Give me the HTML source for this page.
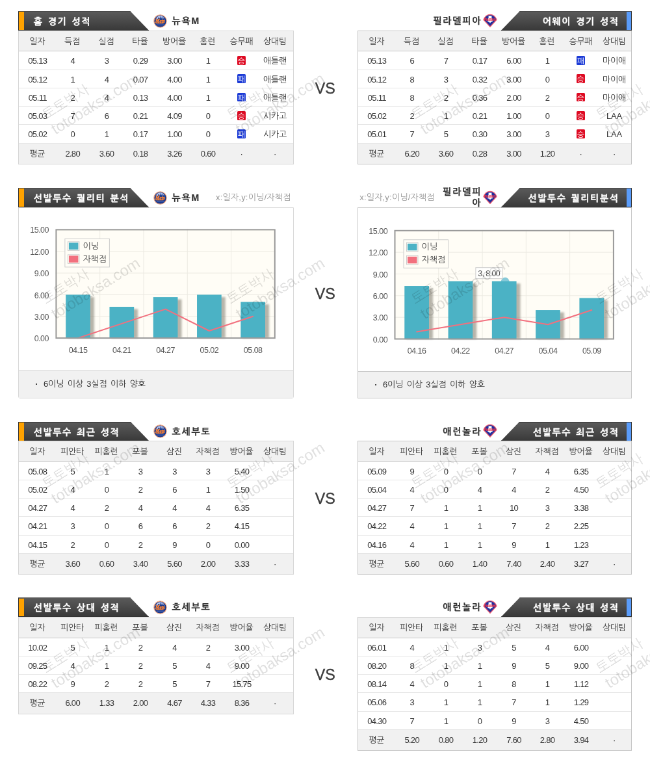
<!DOCTYPE html>
<html lang="ko"><head><meta charset="utf-8"><title>뉴욕M vs 필라델피아</title>
<style>
html,body{margin:0;padding:0;background:#fff;overflow:hidden;}
body{width:650px;height:769px;}
#clip{position:relative;width:650px;height:769px;overflow:hidden;background:#fff;}
#pg{position:absolute;left:0;top:0;width:1000px;height:1184px;transform:scale(0.65);transform-origin:0 0;font-family:"Liberation Sans", "NanumGothic", "Noto Sans CJK KR", sans-serif;font-size:12px;color:#444;background:#fff;will-change:transform;}
#pg div,#pg span,#pg svg{position:absolute;box-sizing:border-box;}
.hd{height:30px;width:201.5px;background:linear-gradient(#5b5b5b,#4a4a4a 50%,#383838);box-shadow:inset 0 0 0 1px #343434;}
.hl{clip-path:polygon(0 0,172.5px 0,201.5px 30px,0 30px);}
.hr{clip-path:polygon(29px 0,201.5px 0,201.5px 30px,0 30px);}
.bar{top:1.3px;width:7.6px;height:27.7px;}
.bar.o{left:1.4px;background:#ffa200;}
.bar.b{right:0.8px;width:6.9px;background:#5a9cfa;}
.tt{top:0;height:30px;line-height:32.6px;color:#fff;font-weight:bold;font-size:14px;white-space:nowrap;word-spacing:1.7px;letter-spacing:1.6px;-webkit-text-stroke:0.35px #fff;}
.hl .tt{left:23.8px;}
.hr .tt{right:19.6px;}
.tm{height:30px;line-height:30px;font-weight:bold;font-size:14px;color:#333;white-space:nowrap;letter-spacing:1.8px;color:#303030;-webkit-text-stroke:0.2px #303030;}
.tm.r{text-align:right;}
.tm.wr{white-space:normal;word-break:break-all;line-height:17px;margin-top:-2.6px;height:36px;}
.xy{height:30px;line-height:30px;color:#999;font-size:13px;letter-spacing:0.2px;white-space:nowrap;}
.xy.r{text-align:right;}
.tbl{border:1px solid #cbcbcb;background:#fff;overflow:hidden;}
.tr{left:0;width:100%;position:relative !important;display:block;}
.tr.th{height:31.4px;line-height:31px;background:#f1f1f1;border-bottom:1.5px solid #c6c6c6;color:#3a3a3a;}
.tr.td{height:28.24px;line-height:29.6px;border-bottom:1px solid #e6e6e6;color:#333;}
.tr.av{height:31.3px;line-height:31px;background:#f1f1f1;color:#333;}
.c{top:0;width:80px;text-align:center;white-space:nowrap;font-size:13px;letter-spacing:-0.2px;}
.c.n{letter-spacing:-0.7px;padding-left:1.2px;}
.bd{position:relative !important;display:inline-block;width:13.2px;height:13.8px;line-height:16px;border-radius:1.6px;color:#fff;font-size:11.5px;letter-spacing:0;font-weight:normal;vertical-align:middle;top:-2px;text-align:center;overflow:hidden;}
.bd.w{background:#de0a22;}
.bd.l{background:#1c3bd6;}
.vs{left:0;width:1000.6px;text-align:center;height:30px;line-height:33.6px;font-size:23.2px;color:#3c3c3c;-webkit-text-stroke:0.45px #3c3c3c;font-family:"Liberation Sans",sans-serif;}
.cbox{border:1px solid #cdcdcd;background:#fff;}
.cfoot{left:0;bottom:0;width:100%;height:43px;line-height:42px;background:#f1f1f1;border-top:1px solid #d9d9d9;padding-left:38px;color:#333;white-space:nowrap;word-spacing:2.2px;font-size:13px;letter-spacing:-0.2px;}
.cfoot .dot{left:25.2px;top:0;font-weight:bold;}
.ax{font-size:12.5px;letter-spacing:-0.5px;fill:#555;font-family:"Liberation Sans", "NanumGothic", "Noto Sans CJK KR", sans-serif;}
.lgt{font-size:13px;fill:#444;font-family:"Liberation Sans", "NanumGothic", "Noto Sans CJK KR", sans-serif;}
.tipt{font-size:12.5px;letter-spacing:-0.6px;fill:#555;font-family:"Liberation Sans", "NanumGothic", "Noto Sans CJK KR", sans-serif;}
.wm .k{position:static !important;padding-left:0px;font-size:21.4px;}
.wm{font-size:23.9px;line-height:26.4px;color:#000;opacity:0.125;transform:rotate(-32deg);transform-origin:0 0;white-space:nowrap;font-family:"Liberation Sans","NanumGothic",sans-serif;}
</style></head>
<body><div id="clip"><div id="pg">
<svg width="0" height="0" style="left:0;top:0"><defs><filter id="bl" x="-20%" y="-20%" width="140%" height="140%"><feGaussianBlur stdDeviation="1.6"/></filter></defs></svg>
<div class="hd hl" style="left:28.0px;top:17.2px"><span class="bar o"></span><span class="tt">홈 경기 성적</span></div>
<svg class="lg" style="left:236.3px;top:21.5px" width="21" height="21" viewBox="0 0 21 21"><circle cx="10.5" cy="10.5" r="9.7" fill="#1c3b8e" stroke="#f7ad85" stroke-width="1.2"/><path d="M3.2 8.6 Q4 4.8 7.2 3 Q10.5 1.6 13.8 3 Q17 4.8 17.8 8.6 Z" fill="#b4c3ea"/><path d="M2 10 V8 H4.2 V6.4 H5.6 V7.4 H7 V5 H8.4 V6.2 H9.6 L10.5 2.4 L11.4 6.2 H12.6 V4.6 H14 V6.8 H15.4 V5.8 H16.8 V8 H19 V10 Z" fill="#1c3b8e"/><text x="10.3" y="12.7" font-family="Liberation Serif, serif" font-style="italic" font-weight="bold" font-size="7.4" fill="#f98035" stroke="#f98035" stroke-width="0.45" text-anchor="middle">Mets</text><path d="M4.2 13.7 H15.4" stroke="#f98035" stroke-width="1.1"/><path d="M5 16.2 H16" stroke="#5d78c2" stroke-width="0.8"/></svg>
<div class="tm" style="left:264.5px;top:17.2px">뉴욕M</div>
<div class="hd hr" style="left:770.5px;top:17.2px"><span class="tt">어웨이 경기 성적</span><span class="bar b"></span></div>
<svg class="lg" style="left:743.2px;top:20.9px" width="22" height="21" viewBox="0 0 22 21"><path d="M11 20.2 L1 9.4 Q2.2 6 5 3.6 Q11 -0.8 17 3.6 Q19.8 6 21 9.4 Z" fill="#1f2f9e" stroke="#ec5a6e" stroke-width="1.3" stroke-linejoin="round"/><path d="M8.6 3.6 H13.4 V6.6 Q15.2 10.4 14.6 12.6 H12.4 L11 14.8 L9.6 12.6 H7.4 Q6.8 10.4 8.6 6.6 Z" fill="#ffffff"/><text x="10.6" y="11.2" font-family="Liberation Serif, serif" font-style="italic" font-weight="bold" font-size="6" fill="#e8344e" stroke="#e8344e" stroke-width="0.2" text-anchor="middle">Phillies</text><circle cx="4.6" cy="8" r="0.9" fill="#e8344e"/><circle cx="17.2" cy="8" r="0.9" fill="#e8344e"/></svg>
<div class="tm r" style="right:258.8px;top:17.2px;width:120px">필라델피아</div>
<div class="tbl" style="border-color:#d6d6d6;left:28.0px;top:47.00px;width:423.5px;height:205.90px">
<div class="tr th">
<span class="c" style="left:-11.8px">일자</span>
<span class="c" style="left:42.1px">득점</span>
<span class="c" style="left:94.4px">실점</span>
<span class="c" style="left:146.4px">타율</span>
<span class="c" style="left:199.0px">방어율</span>
<span class="c" style="left:250.4px">홈런</span>
<span class="c" style="left:302.5px">승무패</span>
<span class="c" style="left:354.0px">상대팀</span>
</div>
<div class="tr td">
<span class="c n" style="left:-11.8px">05.13</span>
<span class="c n" style="left:42.1px">4</span>
<span class="c n" style="left:94.4px">3</span>
<span class="c n" style="left:146.4px">0.29</span>
<span class="c n" style="left:199.0px">3.00</span>
<span class="c n" style="left:250.4px">1</span>
<span class="c" style="left:302.5px"><span class="bd w">승</span></span>
<span class="c" style="left:354.0px">애틀랜</span>
</div>
<div class="tr td">
<span class="c n" style="left:-11.8px">05.12</span>
<span class="c n" style="left:42.1px">1</span>
<span class="c n" style="left:94.4px">4</span>
<span class="c n" style="left:146.4px">0.07</span>
<span class="c n" style="left:199.0px">4.00</span>
<span class="c n" style="left:250.4px">1</span>
<span class="c" style="left:302.5px"><span class="bd l">패</span></span>
<span class="c" style="left:354.0px">애틀랜</span>
</div>
<div class="tr td">
<span class="c n" style="left:-11.8px">05.11</span>
<span class="c n" style="left:42.1px">2</span>
<span class="c n" style="left:94.4px">4</span>
<span class="c n" style="left:146.4px">0.13</span>
<span class="c n" style="left:199.0px">4.00</span>
<span class="c n" style="left:250.4px">1</span>
<span class="c" style="left:302.5px"><span class="bd l">패</span></span>
<span class="c" style="left:354.0px">애틀랜</span>
</div>
<div class="tr td">
<span class="c n" style="left:-11.8px">05.03</span>
<span class="c n" style="left:42.1px">7</span>
<span class="c n" style="left:94.4px">6</span>
<span class="c n" style="left:146.4px">0.21</span>
<span class="c n" style="left:199.0px">4.09</span>
<span class="c n" style="left:250.4px">0</span>
<span class="c" style="left:302.5px"><span class="bd w">승</span></span>
<span class="c" style="left:354.0px">시카고</span>
</div>
<div class="tr td">
<span class="c n" style="left:-11.8px">05.02</span>
<span class="c n" style="left:42.1px">0</span>
<span class="c n" style="left:94.4px">1</span>
<span class="c n" style="left:146.4px">0.17</span>
<span class="c n" style="left:199.0px">1.00</span>
<span class="c n" style="left:250.4px">0</span>
<span class="c" style="left:302.5px"><span class="bd l">패</span></span>
<span class="c" style="left:354.0px">시카고</span>
</div>
<div class="tr av">
<span class="c" style="left:-11.8px">평균</span>
<span class="c n" style="left:42.1px">2.80</span>
<span class="c n" style="left:94.4px">3.60</span>
<span class="c n" style="left:146.4px">0.18</span>
<span class="c n" style="left:199.0px">3.26</span>
<span class="c n" style="left:250.4px">0.60</span>
<span class="c" style="left:302.5px">·</span>
<span class="c" style="left:354.0px">·</span>
</div></div>
<div class="tbl" style="border-color:#c6c6c6;left:550.0px;top:47.00px;width:422.0px;height:205.90px">
<div class="tr th">
<span class="c" style="left:-11.8px">일자</span>
<span class="c" style="left:42.1px">득점</span>
<span class="c" style="left:94.4px">실점</span>
<span class="c" style="left:146.4px">타율</span>
<span class="c" style="left:199.0px">방어율</span>
<span class="c" style="left:250.4px">홈런</span>
<span class="c" style="left:302.5px">승무패</span>
<span class="c" style="left:354.0px">상대팀</span>
</div>
<div class="tr td">
<span class="c n" style="left:-11.8px">05.13</span>
<span class="c n" style="left:42.1px">6</span>
<span class="c n" style="left:94.4px">7</span>
<span class="c n" style="left:146.4px">0.17</span>
<span class="c n" style="left:199.0px">6.00</span>
<span class="c n" style="left:250.4px">1</span>
<span class="c" style="left:302.5px"><span class="bd l">패</span></span>
<span class="c" style="left:354.0px">마이애</span>
</div>
<div class="tr td">
<span class="c n" style="left:-11.8px">05.12</span>
<span class="c n" style="left:42.1px">8</span>
<span class="c n" style="left:94.4px">3</span>
<span class="c n" style="left:146.4px">0.32</span>
<span class="c n" style="left:199.0px">3.00</span>
<span class="c n" style="left:250.4px">0</span>
<span class="c" style="left:302.5px"><span class="bd w">승</span></span>
<span class="c" style="left:354.0px">마이애</span>
</div>
<div class="tr td">
<span class="c n" style="left:-11.8px">05.11</span>
<span class="c n" style="left:42.1px">8</span>
<span class="c n" style="left:94.4px">2</span>
<span class="c n" style="left:146.4px">0.36</span>
<span class="c n" style="left:199.0px">2.00</span>
<span class="c n" style="left:250.4px">2</span>
<span class="c" style="left:302.5px"><span class="bd w">승</span></span>
<span class="c" style="left:354.0px">마이애</span>
</div>
<div class="tr td">
<span class="c n" style="left:-11.8px">05.02</span>
<span class="c n" style="left:42.1px">2</span>
<span class="c n" style="left:94.4px">1</span>
<span class="c n" style="left:146.4px">0.21</span>
<span class="c n" style="left:199.0px">1.00</span>
<span class="c n" style="left:250.4px">0</span>
<span class="c" style="left:302.5px"><span class="bd w">승</span></span>
<span class="c" style="left:354.0px">LAA</span>
</div>
<div class="tr td">
<span class="c n" style="left:-11.8px">05.01</span>
<span class="c n" style="left:42.1px">7</span>
<span class="c n" style="left:94.4px">5</span>
<span class="c n" style="left:146.4px">0.30</span>
<span class="c n" style="left:199.0px">3.00</span>
<span class="c n" style="left:250.4px">3</span>
<span class="c" style="left:302.5px"><span class="bd w">승</span></span>
<span class="c" style="left:354.0px">LAA</span>
</div>
<div class="tr av">
<span class="c" style="left:-11.8px">평균</span>
<span class="c n" style="left:42.1px">6.20</span>
<span class="c n" style="left:94.4px">3.60</span>
<span class="c n" style="left:146.4px">0.28</span>
<span class="c n" style="left:199.0px">3.00</span>
<span class="c n" style="left:250.4px">1.20</span>
<span class="c" style="left:302.5px">·</span>
<span class="c" style="left:354.0px">·</span>
</div></div>
<div class="vs" style="top:119.94999999999999px">VS</div>
<div class="hd hl" style="left:28.0px;top:289.2px"><span class="bar o"></span><span class="tt">선발투수 퀄리티 분석</span></div>
<svg class="lg" style="left:236.3px;top:293.5px" width="21" height="21" viewBox="0 0 21 21"><circle cx="10.5" cy="10.5" r="9.7" fill="#1c3b8e" stroke="#f7ad85" stroke-width="1.2"/><path d="M3.2 8.6 Q4 4.8 7.2 3 Q10.5 1.6 13.8 3 Q17 4.8 17.8 8.6 Z" fill="#b4c3ea"/><path d="M2 10 V8 H4.2 V6.4 H5.6 V7.4 H7 V5 H8.4 V6.2 H9.6 L10.5 2.4 L11.4 6.2 H12.6 V4.6 H14 V6.8 H15.4 V5.8 H16.8 V8 H19 V10 Z" fill="#1c3b8e"/><text x="10.3" y="12.7" font-family="Liberation Serif, serif" font-style="italic" font-weight="bold" font-size="7.4" fill="#f98035" stroke="#f98035" stroke-width="0.45" text-anchor="middle">Mets</text><path d="M4.2 13.7 H15.4" stroke="#f98035" stroke-width="1.1"/><path d="M5 16.2 H16" stroke="#5d78c2" stroke-width="0.8"/></svg>
<div class="tm" style="left:264.5px;top:289.2px">뉴욕M</div>
<div class="xy" style="left:332px;top:289.2px">x:일자,y:이닝/자책점</div>
<div class="hd hr" style="left:770.5px;top:289.2px"><span class="tt">선발투수 퀄리티분석</span><span class="bar b"></span></div>
<svg class="lg" style="left:743.2px;top:292.9px" width="22" height="21" viewBox="0 0 22 21"><path d="M11 20.2 L1 9.4 Q2.2 6 5 3.6 Q11 -0.8 17 3.6 Q19.8 6 21 9.4 Z" fill="#1f2f9e" stroke="#ec5a6e" stroke-width="1.3" stroke-linejoin="round"/><path d="M8.6 3.6 H13.4 V6.6 Q15.2 10.4 14.6 12.6 H12.4 L11 14.8 L9.6 12.6 H7.4 Q6.8 10.4 8.6 6.6 Z" fill="#ffffff"/><text x="10.6" y="11.2" font-family="Liberation Serif, serif" font-style="italic" font-weight="bold" font-size="6" fill="#e8344e" stroke="#e8344e" stroke-width="0.2" text-anchor="middle">Phillies</text><circle cx="4.6" cy="8" r="0.9" fill="#e8344e"/><circle cx="17.2" cy="8" r="0.9" fill="#e8344e"/></svg>
<div class="tm r wr" style="right:258.8px;top:289.2px;width:64px">필라델피아</div>
<div class="xy r" style="left:528.8px;width:140px;top:289.2px">x:일자,y:이닝/자책점</div>
<div class="cbox" style="left:28.0px;top:319.2px;width:423.5px;height:293.9px;border-color:#d9d9d9;border-radius:0 0 3px 3px">
<svg class="plot" width="421.5" height="250" viewBox="0 0 421.5 250" style="left:0;top:0">
<rect x="56.40" y="32.40" width="338.4" height="168.7" fill="#fffdf6"/>
<line x1="56.40" x2="394.80" y1="66.74" y2="66.74" stroke="#eceae2" stroke-width="1"/>
<line x1="56.40" x2="394.80" y1="100.08" y2="100.08" stroke="#eceae2" stroke-width="1"/>
<line x1="56.40" x2="394.80" y1="133.42" y2="133.42" stroke="#eceae2" stroke-width="1"/>
<line x1="56.40" x2="394.80" y1="166.76" y2="166.76" stroke="#eceae2" stroke-width="1"/>
<line y1="32.40" y2="201.10" x1="124.68" x2="124.68" stroke="#eceae2" stroke-width="1"/>
<line y1="32.40" y2="201.10" x1="191.96" x2="191.96" stroke="#eceae2" stroke-width="1"/>
<line y1="32.40" y2="201.10" x1="259.24" x2="259.24" stroke="#eceae2" stroke-width="1"/>
<line y1="32.40" y2="201.10" x1="326.52" x2="326.52" stroke="#eceae2" stroke-width="1"/>
<rect x="75.19" y="136.92" width="40.70" height="63.18" fill="#7d796c" opacity="0.55" filter="url(#bl)"/>
<rect x="72.19" y="133.42" width="37.70" height="67.28" fill="#4bb2c5"/>
<rect x="142.47" y="155.48" width="40.70" height="44.62" fill="#7d796c" opacity="0.55" filter="url(#bl)"/>
<rect x="139.47" y="151.98" width="37.70" height="48.72" fill="#4bb2c5"/>
<rect x="209.75" y="140.59" width="40.70" height="59.51" fill="#7d796c" opacity="0.55" filter="url(#bl)"/>
<rect x="206.75" y="137.09" width="37.70" height="63.61" fill="#4bb2c5"/>
<rect x="277.03" y="136.92" width="40.70" height="63.18" fill="#7d796c" opacity="0.55" filter="url(#bl)"/>
<rect x="274.03" y="133.42" width="37.70" height="67.28" fill="#4bb2c5"/>
<rect x="344.31" y="148.03" width="40.70" height="52.07" fill="#7d796c" opacity="0.55" filter="url(#bl)"/>
<rect x="341.31" y="144.53" width="37.70" height="56.17" fill="#4bb2c5"/>
<polyline points="91.04,200.10 158.32,177.87 225.60,155.65 292.88,188.99 360.16,166.76" fill="none" stroke="#f2707e" stroke-width="2" stroke-linejoin="round" stroke-linecap="round"/>
<rect x="57.40" y="33.40" width="336.4" height="166.7" fill="none" stroke="#999999" stroke-width="2"/>
<rect x="70.90" y="47.40" width="68.5" height="43.5" fill="#fffdf6" stroke="#cccccc" stroke-width="1"/>
<rect x="75.40" y="51.90" width="17.5" height="13.5" fill="#fffdf6" stroke="#cccccc" stroke-width="1"/>
<rect x="76.90" y="53.40" width="14.5" height="10.5" fill="#4bb2c5"/>
<rect x="75.40" y="71.90" width="17.5" height="13.5" fill="#fffdf6" stroke="#cccccc" stroke-width="1"/>
<rect x="76.90" y="73.40" width="14.5" height="10.5" fill="#f2707e"/>
<text x="98.40" y="63.00" class="lgt">이닝</text>
<text x="98.40" y="83.00" class="lgt">자책점</text>
<text x="46.00" y="38.50" class="ax" text-anchor="end">15.00</text>
<text x="46.00" y="71.84" class="ax" text-anchor="end">12.00</text>
<text x="46.00" y="105.18" class="ax" text-anchor="end">9.00</text>
<text x="46.00" y="138.52" class="ax" text-anchor="end">6.00</text>
<text x="46.00" y="171.86" class="ax" text-anchor="end">3.00</text>
<text x="46.00" y="205.20" class="ax" text-anchor="end">0.00</text>
<text x="91.04" y="222.80" class="ax" text-anchor="middle">04.15</text>
<text x="158.32" y="222.80" class="ax" text-anchor="middle">04.21</text>
<text x="225.60" y="222.80" class="ax" text-anchor="middle">04.27</text>
<text x="292.88" y="222.80" class="ax" text-anchor="middle">05.02</text>
<text x="360.16" y="222.80" class="ax" text-anchor="middle">05.08</text>
</svg>
<div class="cfoot" style="height:42.6px;line-height:42.0px;border-top-color:#d9d9d9"><span class="dot">·</span>6이닝 이상 3실점 이하 양호</div>
</div>
<div class="cbox" style="left:550.0px;top:319.2px;width:422.0px;height:293.9px;border-color:#c9c9c9;border-radius:0 0 0px 0px">
<svg class="plot" width="420.0" height="250" viewBox="0 0 420.0 250" style="left:0;top:0">
<rect x="55.50" y="33.80" width="338.4" height="168.7" fill="#fffdf6"/>
<line x1="55.50" x2="393.90" y1="68.14" y2="68.14" stroke="#eceae2" stroke-width="1"/>
<line x1="55.50" x2="393.90" y1="101.48" y2="101.48" stroke="#eceae2" stroke-width="1"/>
<line x1="55.50" x2="393.90" y1="134.82" y2="134.82" stroke="#eceae2" stroke-width="1"/>
<line x1="55.50" x2="393.90" y1="168.16" y2="168.16" stroke="#eceae2" stroke-width="1"/>
<line y1="33.80" y2="202.50" x1="123.78" x2="123.78" stroke="#eceae2" stroke-width="1"/>
<line y1="33.80" y2="202.50" x1="191.06" x2="191.06" stroke="#eceae2" stroke-width="1"/>
<line y1="33.80" y2="202.50" x1="258.34" x2="258.34" stroke="#eceae2" stroke-width="1"/>
<line y1="33.80" y2="202.50" x1="325.62" x2="325.62" stroke="#eceae2" stroke-width="1"/>
<rect x="74.29" y="123.54" width="40.70" height="77.96" fill="#7d796c" opacity="0.55" filter="url(#bl)"/>
<rect x="71.29" y="120.04" width="37.70" height="82.06" fill="#4bb2c5"/>
<rect x="141.57" y="116.09" width="40.70" height="85.41" fill="#7d796c" opacity="0.55" filter="url(#bl)"/>
<rect x="138.57" y="112.59" width="37.70" height="89.51" fill="#4bb2c5"/>
<rect x="208.85" y="116.09" width="40.70" height="85.41" fill="#7d796c" opacity="0.55" filter="url(#bl)"/>
<circle cx="226.2" cy="113.1" r="6.3" fill="#86c9d8"/>
<rect x="205.85" y="112.59" width="37.70" height="89.51" fill="#4bb2c5"/>
<rect x="276.13" y="160.55" width="40.70" height="40.95" fill="#7d796c" opacity="0.55" filter="url(#bl)"/>
<rect x="273.13" y="157.05" width="37.70" height="45.05" fill="#4bb2c5"/>
<rect x="343.41" y="141.99" width="40.70" height="59.51" fill="#7d796c" opacity="0.55" filter="url(#bl)"/>
<rect x="340.41" y="138.49" width="37.70" height="63.61" fill="#4bb2c5"/>
<polyline points="90.14,190.39 157.42,179.27 224.70,168.16 291.98,179.27 359.26,157.05" fill="none" stroke="#f2707e" stroke-width="2" stroke-linejoin="round" stroke-linecap="round"/>
<rect x="56.50" y="34.80" width="336.4" height="166.7" fill="none" stroke="#999999" stroke-width="2"/>
<rect x="70.00" y="48.80" width="68.5" height="43.5" fill="#fffdf6" stroke="#cccccc" stroke-width="1"/>
<rect x="74.50" y="53.30" width="17.5" height="13.5" fill="#fffdf6" stroke="#cccccc" stroke-width="1"/>
<rect x="76.00" y="54.80" width="14.5" height="10.5" fill="#4bb2c5"/>
<rect x="74.50" y="73.30" width="17.5" height="13.5" fill="#fffdf6" stroke="#cccccc" stroke-width="1"/>
<rect x="76.00" y="74.80" width="14.5" height="10.5" fill="#f2707e"/>
<text x="97.50" y="64.40" class="lgt">이닝</text>
<text x="97.50" y="84.40" class="lgt">자책점</text>
<rect x="180.9" y="91.7" width="41" height="17" fill="#ffffff" fill-opacity="0.85" stroke="#cccccc" stroke-width="1"/>
<text x="184.2" y="105.0" class="tipt">3, 8.00</text>
<text x="45.10" y="39.90" class="ax" text-anchor="end">15.00</text>
<text x="45.10" y="73.24" class="ax" text-anchor="end">12.00</text>
<text x="45.10" y="106.58" class="ax" text-anchor="end">9.00</text>
<text x="45.10" y="139.92" class="ax" text-anchor="end">6.00</text>
<text x="45.10" y="173.26" class="ax" text-anchor="end">3.00</text>
<text x="45.10" y="206.60" class="ax" text-anchor="end">0.00</text>
<text x="90.14" y="224.20" class="ax" text-anchor="middle">04.16</text>
<text x="157.42" y="224.20" class="ax" text-anchor="middle">04.22</text>
<text x="224.70" y="224.20" class="ax" text-anchor="middle">04.27</text>
<text x="291.98" y="224.20" class="ax" text-anchor="middle">05.04</text>
<text x="359.26" y="224.20" class="ax" text-anchor="middle">05.09</text>
</svg>
<div class="cfoot" style="height:41.4px;line-height:40.8px;border-top-color:#c9c9c9"><span class="dot">·</span>6이닝 이상 3실점 이하 양호</div>
</div>
<div class="vs" style="top:436.1px">VS</div>
<div class="hd hl" style="left:28.0px;top:648.6px"><span class="bar o"></span><span class="tt">선발투수 최근 성적</span></div>
<svg class="lg" style="left:236.3px;top:652.9px" width="21" height="21" viewBox="0 0 21 21"><circle cx="10.5" cy="10.5" r="9.7" fill="#1c3b8e" stroke="#f7ad85" stroke-width="1.2"/><path d="M3.2 8.6 Q4 4.8 7.2 3 Q10.5 1.6 13.8 3 Q17 4.8 17.8 8.6 Z" fill="#b4c3ea"/><path d="M2 10 V8 H4.2 V6.4 H5.6 V7.4 H7 V5 H8.4 V6.2 H9.6 L10.5 2.4 L11.4 6.2 H12.6 V4.6 H14 V6.8 H15.4 V5.8 H16.8 V8 H19 V10 Z" fill="#1c3b8e"/><text x="10.3" y="12.7" font-family="Liberation Serif, serif" font-style="italic" font-weight="bold" font-size="7.4" fill="#f98035" stroke="#f98035" stroke-width="0.45" text-anchor="middle">Mets</text><path d="M4.2 13.7 H15.4" stroke="#f98035" stroke-width="1.1"/><path d="M5 16.2 H16" stroke="#5d78c2" stroke-width="0.8"/></svg>
<div class="tm" style="left:264.5px;top:648.6px">호세부토</div>
<div class="hd hr" style="left:770.5px;top:648.6px"><span class="tt">선발투수 최근 성적</span><span class="bar b"></span></div>
<svg class="lg" style="left:743.2px;top:652.3000000000001px" width="22" height="21" viewBox="0 0 22 21"><path d="M11 20.2 L1 9.4 Q2.2 6 5 3.6 Q11 -0.8 17 3.6 Q19.8 6 21 9.4 Z" fill="#1f2f9e" stroke="#ec5a6e" stroke-width="1.3" stroke-linejoin="round"/><path d="M8.6 3.6 H13.4 V6.6 Q15.2 10.4 14.6 12.6 H12.4 L11 14.8 L9.6 12.6 H7.4 Q6.8 10.4 8.6 6.6 Z" fill="#ffffff"/><text x="10.6" y="11.2" font-family="Liberation Serif, serif" font-style="italic" font-weight="bold" font-size="6" fill="#e8344e" stroke="#e8344e" stroke-width="0.2" text-anchor="middle">Phillies</text><circle cx="4.6" cy="8" r="0.9" fill="#e8344e"/><circle cx="17.2" cy="8" r="0.9" fill="#e8344e"/></svg>
<div class="tm r" style="right:258.8px;top:648.6px;width:120px">애런놀라</div>
<div class="tbl" style="border-color:#d6d6d6;left:28.0px;top:678.40px;width:423.5px;height:205.90px">
<div class="tr th">
<span class="c" style="left:-11.8px">일자</span>
<span class="c" style="left:42.1px">피안타</span>
<span class="c" style="left:94.4px">피홈런</span>
<span class="c" style="left:146.4px">포볼</span>
<span class="c" style="left:199.0px">삼진</span>
<span class="c" style="left:250.4px">자책점</span>
<span class="c" style="left:302.5px">방어율</span>
<span class="c" style="left:354.0px">상대팀</span>
</div>
<div class="tr td">
<span class="c n" style="left:-11.8px">05.08</span>
<span class="c n" style="left:42.1px">5</span>
<span class="c n" style="left:94.4px">1</span>
<span class="c n" style="left:146.4px">3</span>
<span class="c n" style="left:199.0px">3</span>
<span class="c n" style="left:250.4px">3</span>
<span class="c n" style="left:302.5px">5.40</span>
</div>
<div class="tr td">
<span class="c n" style="left:-11.8px">05.02</span>
<span class="c n" style="left:42.1px">4</span>
<span class="c n" style="left:94.4px">0</span>
<span class="c n" style="left:146.4px">2</span>
<span class="c n" style="left:199.0px">6</span>
<span class="c n" style="left:250.4px">1</span>
<span class="c n" style="left:302.5px">1.50</span>
</div>
<div class="tr td">
<span class="c n" style="left:-11.8px">04.27</span>
<span class="c n" style="left:42.1px">4</span>
<span class="c n" style="left:94.4px">2</span>
<span class="c n" style="left:146.4px">4</span>
<span class="c n" style="left:199.0px">4</span>
<span class="c n" style="left:250.4px">4</span>
<span class="c n" style="left:302.5px">6.35</span>
</div>
<div class="tr td">
<span class="c n" style="left:-11.8px">04.21</span>
<span class="c n" style="left:42.1px">3</span>
<span class="c n" style="left:94.4px">0</span>
<span class="c n" style="left:146.4px">6</span>
<span class="c n" style="left:199.0px">6</span>
<span class="c n" style="left:250.4px">2</span>
<span class="c n" style="left:302.5px">4.15</span>
</div>
<div class="tr td">
<span class="c n" style="left:-11.8px">04.15</span>
<span class="c n" style="left:42.1px">2</span>
<span class="c n" style="left:94.4px">0</span>
<span class="c n" style="left:146.4px">2</span>
<span class="c n" style="left:199.0px">9</span>
<span class="c n" style="left:250.4px">0</span>
<span class="c n" style="left:302.5px">0.00</span>
</div>
<div class="tr av">
<span class="c" style="left:-11.8px">평균</span>
<span class="c n" style="left:42.1px">3.60</span>
<span class="c n" style="left:94.4px">0.60</span>
<span class="c n" style="left:146.4px">3.40</span>
<span class="c n" style="left:199.0px">5.60</span>
<span class="c n" style="left:250.4px">2.00</span>
<span class="c n" style="left:302.5px">3.33</span>
<span class="c" style="left:354.0px">·</span>
</div></div>
<div class="tbl" style="border-color:#c6c6c6;left:550.0px;top:678.40px;width:422.0px;height:205.90px">
<div class="tr th">
<span class="c" style="left:-11.8px">일자</span>
<span class="c" style="left:42.1px">피안타</span>
<span class="c" style="left:94.4px">피홈런</span>
<span class="c" style="left:146.4px">포볼</span>
<span class="c" style="left:199.0px">삼진</span>
<span class="c" style="left:250.4px">자책점</span>
<span class="c" style="left:302.5px">방어율</span>
<span class="c" style="left:354.0px">상대팀</span>
</div>
<div class="tr td">
<span class="c n" style="left:-11.8px">05.09</span>
<span class="c n" style="left:42.1px">9</span>
<span class="c n" style="left:94.4px">0</span>
<span class="c n" style="left:146.4px">0</span>
<span class="c n" style="left:199.0px">7</span>
<span class="c n" style="left:250.4px">4</span>
<span class="c n" style="left:302.5px">6.35</span>
</div>
<div class="tr td">
<span class="c n" style="left:-11.8px">05.04</span>
<span class="c n" style="left:42.1px">4</span>
<span class="c n" style="left:94.4px">0</span>
<span class="c n" style="left:146.4px">4</span>
<span class="c n" style="left:199.0px">4</span>
<span class="c n" style="left:250.4px">2</span>
<span class="c n" style="left:302.5px">4.50</span>
</div>
<div class="tr td">
<span class="c n" style="left:-11.8px">04.27</span>
<span class="c n" style="left:42.1px">7</span>
<span class="c n" style="left:94.4px">1</span>
<span class="c n" style="left:146.4px">1</span>
<span class="c n" style="left:199.0px">10</span>
<span class="c n" style="left:250.4px">3</span>
<span class="c n" style="left:302.5px">3.38</span>
</div>
<div class="tr td">
<span class="c n" style="left:-11.8px">04.22</span>
<span class="c n" style="left:42.1px">4</span>
<span class="c n" style="left:94.4px">1</span>
<span class="c n" style="left:146.4px">1</span>
<span class="c n" style="left:199.0px">7</span>
<span class="c n" style="left:250.4px">2</span>
<span class="c n" style="left:302.5px">2.25</span>
</div>
<div class="tr td">
<span class="c n" style="left:-11.8px">04.16</span>
<span class="c n" style="left:42.1px">4</span>
<span class="c n" style="left:94.4px">1</span>
<span class="c n" style="left:146.4px">1</span>
<span class="c n" style="left:199.0px">9</span>
<span class="c n" style="left:250.4px">1</span>
<span class="c n" style="left:302.5px">1.23</span>
</div>
<div class="tr av">
<span class="c" style="left:-11.8px">평균</span>
<span class="c n" style="left:42.1px">5.60</span>
<span class="c n" style="left:94.4px">0.60</span>
<span class="c n" style="left:146.4px">1.40</span>
<span class="c n" style="left:199.0px">7.40</span>
<span class="c n" style="left:250.4px">2.40</span>
<span class="c n" style="left:302.5px">3.27</span>
<span class="c" style="left:354.0px">·</span>
</div></div>
<div class="vs" style="top:751.45px">VS</div>
<div class="hd hl" style="left:28.0px;top:919.4px"><span class="bar o"></span><span class="tt">선발투수 상대 성적</span></div>
<svg class="lg" style="left:236.3px;top:923.6999999999999px" width="21" height="21" viewBox="0 0 21 21"><circle cx="10.5" cy="10.5" r="9.7" fill="#1c3b8e" stroke="#f7ad85" stroke-width="1.2"/><path d="M3.2 8.6 Q4 4.8 7.2 3 Q10.5 1.6 13.8 3 Q17 4.8 17.8 8.6 Z" fill="#b4c3ea"/><path d="M2 10 V8 H4.2 V6.4 H5.6 V7.4 H7 V5 H8.4 V6.2 H9.6 L10.5 2.4 L11.4 6.2 H12.6 V4.6 H14 V6.8 H15.4 V5.8 H16.8 V8 H19 V10 Z" fill="#1c3b8e"/><text x="10.3" y="12.7" font-family="Liberation Serif, serif" font-style="italic" font-weight="bold" font-size="7.4" fill="#f98035" stroke="#f98035" stroke-width="0.45" text-anchor="middle">Mets</text><path d="M4.2 13.7 H15.4" stroke="#f98035" stroke-width="1.1"/><path d="M5 16.2 H16" stroke="#5d78c2" stroke-width="0.8"/></svg>
<div class="tm" style="left:264.5px;top:919.4px">호세부토</div>
<div class="hd hr" style="left:770.5px;top:919.4px"><span class="tt">선발투수 상대 성적</span><span class="bar b"></span></div>
<svg class="lg" style="left:743.2px;top:923.1px" width="22" height="21" viewBox="0 0 22 21"><path d="M11 20.2 L1 9.4 Q2.2 6 5 3.6 Q11 -0.8 17 3.6 Q19.8 6 21 9.4 Z" fill="#1f2f9e" stroke="#ec5a6e" stroke-width="1.3" stroke-linejoin="round"/><path d="M8.6 3.6 H13.4 V6.6 Q15.2 10.4 14.6 12.6 H12.4 L11 14.8 L9.6 12.6 H7.4 Q6.8 10.4 8.6 6.6 Z" fill="#ffffff"/><text x="10.6" y="11.2" font-family="Liberation Serif, serif" font-style="italic" font-weight="bold" font-size="6" fill="#e8344e" stroke="#e8344e" stroke-width="0.2" text-anchor="middle">Phillies</text><circle cx="4.6" cy="8" r="0.9" fill="#e8344e"/><circle cx="17.2" cy="8" r="0.9" fill="#e8344e"/></svg>
<div class="tm r" style="right:258.8px;top:919.4px;width:120px">애런놀라</div>
<div class="tbl" style="border-color:#d6d6d6;left:28.0px;top:949.20px;width:423.5px;height:149.42px">
<div class="tr th">
<span class="c" style="left:-11.8px">일자</span>
<span class="c" style="left:42.1px">피안타</span>
<span class="c" style="left:94.4px">피홈런</span>
<span class="c" style="left:146.4px">포볼</span>
<span class="c" style="left:199.0px">삼진</span>
<span class="c" style="left:250.4px">자책점</span>
<span class="c" style="left:302.5px">방어율</span>
<span class="c" style="left:354.0px">상대팀</span>
</div>
<div class="tr td">
<span class="c n" style="left:-11.8px">10.02</span>
<span class="c n" style="left:42.1px">5</span>
<span class="c n" style="left:94.4px">1</span>
<span class="c n" style="left:146.4px">2</span>
<span class="c n" style="left:199.0px">4</span>
<span class="c n" style="left:250.4px">2</span>
<span class="c n" style="left:302.5px">3.00</span>
</div>
<div class="tr td">
<span class="c n" style="left:-11.8px">09.25</span>
<span class="c n" style="left:42.1px">4</span>
<span class="c n" style="left:94.4px">1</span>
<span class="c n" style="left:146.4px">2</span>
<span class="c n" style="left:199.0px">5</span>
<span class="c n" style="left:250.4px">4</span>
<span class="c n" style="left:302.5px">9.00</span>
</div>
<div class="tr td">
<span class="c n" style="left:-11.8px">08.22</span>
<span class="c n" style="left:42.1px">9</span>
<span class="c n" style="left:94.4px">2</span>
<span class="c n" style="left:146.4px">2</span>
<span class="c n" style="left:199.0px">5</span>
<span class="c n" style="left:250.4px">7</span>
<span class="c n" style="left:302.5px">15.75</span>
</div>
<div class="tr av">
<span class="c" style="left:-11.8px">평균</span>
<span class="c n" style="left:42.1px">6.00</span>
<span class="c n" style="left:94.4px">1.33</span>
<span class="c n" style="left:146.4px">2.00</span>
<span class="c n" style="left:199.0px">4.67</span>
<span class="c n" style="left:250.4px">4.33</span>
<span class="c n" style="left:302.5px">8.36</span>
<span class="c" style="left:354.0px">·</span>
</div></div>
<div class="tbl" style="border-color:#c6c6c6;left:550.0px;top:949.20px;width:422.0px;height:205.90px">
<div class="tr th">
<span class="c" style="left:-11.8px">일자</span>
<span class="c" style="left:42.1px">피안타</span>
<span class="c" style="left:94.4px">피홈런</span>
<span class="c" style="left:146.4px">포볼</span>
<span class="c" style="left:199.0px">삼진</span>
<span class="c" style="left:250.4px">자책점</span>
<span class="c" style="left:302.5px">방어율</span>
<span class="c" style="left:354.0px">상대팀</span>
</div>
<div class="tr td">
<span class="c n" style="left:-11.8px">06.01</span>
<span class="c n" style="left:42.1px">4</span>
<span class="c n" style="left:94.4px">1</span>
<span class="c n" style="left:146.4px">3</span>
<span class="c n" style="left:199.0px">5</span>
<span class="c n" style="left:250.4px">4</span>
<span class="c n" style="left:302.5px">6.00</span>
</div>
<div class="tr td">
<span class="c n" style="left:-11.8px">08.20</span>
<span class="c n" style="left:42.1px">8</span>
<span class="c n" style="left:94.4px">1</span>
<span class="c n" style="left:146.4px">1</span>
<span class="c n" style="left:199.0px">9</span>
<span class="c n" style="left:250.4px">5</span>
<span class="c n" style="left:302.5px">9.00</span>
</div>
<div class="tr td">
<span class="c n" style="left:-11.8px">08.14</span>
<span class="c n" style="left:42.1px">4</span>
<span class="c n" style="left:94.4px">0</span>
<span class="c n" style="left:146.4px">1</span>
<span class="c n" style="left:199.0px">8</span>
<span class="c n" style="left:250.4px">1</span>
<span class="c n" style="left:302.5px">1.12</span>
</div>
<div class="tr td">
<span class="c n" style="left:-11.8px">05.06</span>
<span class="c n" style="left:42.1px">3</span>
<span class="c n" style="left:94.4px">1</span>
<span class="c n" style="left:146.4px">1</span>
<span class="c n" style="left:199.0px">7</span>
<span class="c n" style="left:250.4px">1</span>
<span class="c n" style="left:302.5px">1.29</span>
</div>
<div class="tr td">
<span class="c n" style="left:-11.8px">04.30</span>
<span class="c n" style="left:42.1px">7</span>
<span class="c n" style="left:94.4px">1</span>
<span class="c n" style="left:146.4px">0</span>
<span class="c n" style="left:199.0px">9</span>
<span class="c n" style="left:250.4px">3</span>
<span class="c n" style="left:302.5px">4.50</span>
</div>
<div class="tr av">
<span class="c" style="left:-11.8px">평균</span>
<span class="c n" style="left:42.1px">5.20</span>
<span class="c n" style="left:94.4px">0.80</span>
<span class="c n" style="left:146.4px">1.20</span>
<span class="c n" style="left:199.0px">7.60</span>
<span class="c n" style="left:250.4px">2.80</span>
<span class="c n" style="left:302.5px">3.94</span>
<span class="c" style="left:354.0px">·</span>
</div></div>
<div class="vs" style="top:1022.2px">VS</div>
<div class="wm" style="left:59.8px;top:167.0px"><span class="k">토토박사</span><br>totobaksa.com</div>
<div class="wm" style="left:343.8px;top:167.0px"><span class="k">토토박사</span><br>totobaksa.com</div>
<div class="wm" style="left:627.8px;top:167.0px"><span class="k">토토박사</span><br>totobaksa.com</div>
<div class="wm" style="left:911.8px;top:167.0px"><span class="k">토토박사</span><br>totobaksa.com</div>
<div class="wm" style="left:59.8px;top:451.0px"><span class="k">토토박사</span><br>totobaksa.com</div>
<div class="wm" style="left:343.8px;top:451.0px"><span class="k">토토박사</span><br>totobaksa.com</div>
<div class="wm" style="left:627.8px;top:451.0px"><span class="k">토토박사</span><br>totobaksa.com</div>
<div class="wm" style="left:911.8px;top:451.0px"><span class="k">토토박사</span><br>totobaksa.com</div>
<div class="wm" style="left:59.8px;top:735.0px"><span class="k">토토박사</span><br>totobaksa.com</div>
<div class="wm" style="left:343.8px;top:735.0px"><span class="k">토토박사</span><br>totobaksa.com</div>
<div class="wm" style="left:627.8px;top:735.0px"><span class="k">토토박사</span><br>totobaksa.com</div>
<div class="wm" style="left:911.8px;top:735.0px"><span class="k">토토박사</span><br>totobaksa.com</div>
<div class="wm" style="left:59.8px;top:1019.0px"><span class="k">토토박사</span><br>totobaksa.com</div>
<div class="wm" style="left:343.8px;top:1019.0px"><span class="k">토토박사</span><br>totobaksa.com</div>
<div class="wm" style="left:627.8px;top:1019.0px"><span class="k">토토박사</span><br>totobaksa.com</div>
<div class="wm" style="left:911.8px;top:1019.0px"><span class="k">토토박사</span><br>totobaksa.com</div>
</div></div></body></html>
